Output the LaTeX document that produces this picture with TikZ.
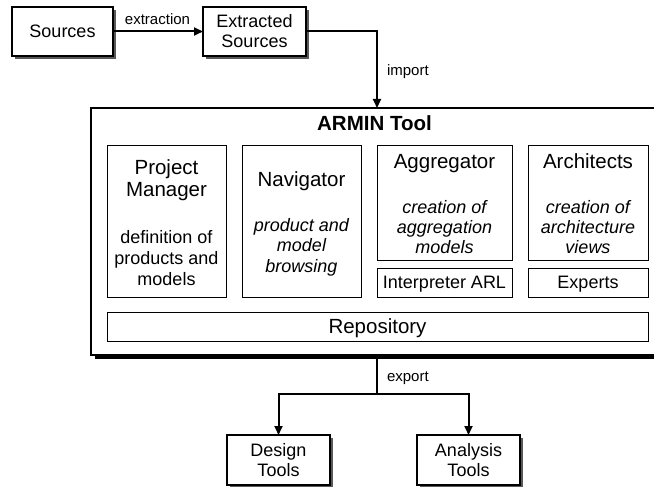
\documentclass[tikz,border=0pt]{standalone}
\usepackage{fontspec}
\setmainfont{Liberation Sans}
\usetikzlibrary{arrows.meta,shadows}
\begin{document}
\begin{tikzpicture}[x=1pt,y=-1pt,
  every node/.style={inner sep=0pt, outer sep=0pt},
  big/.style={font=\fontsize{18}{20}\selectfont},
  head/.style={font=\fontsize{20.5}{22}\selectfont},
  small/.style={font=\fontsize{15}{17}\selectfont},
  onebox/.style={big, text height=12.9pt, text depth=0pt},
  headbox/.style={head, text height=14.7pt, text depth=0pt},
  outerbox/.style={draw, line width=1.1pt, fill=white,
    drop shadow={shadow xshift=3pt, shadow yshift=-3pt, fill=black!65, opacity=1}},
  innerbox/.style={draw, line width=1pt},
  ln/.style={anchor=base, big},
  hl/.style={anchor=base, head},
  desc/.style={anchor=base, font=\fontsize{18}{20}\selectfont\itshape},
  conn/.style={line width=2pt, -{Triangle[length=9pt,width=8pt]}},
  wire/.style={line width=2pt},
]
\clip (0,0) rectangle (654,487);

% external sources
\node[outerbox, onebox, minimum width=101pt, minimum height=49pt] (src) at (62.5,31.5) {Sources};
\node[outerbox, minimum width=103pt, minimum height=49pt] (ext) at (254.5,31.5) {};
\node[ln] (ext1) at (254.5,27.7) {Extracted};
\node[ln] (ext2) at (254.5,47.7) {Sources};

% the tool frame
\node[draw, line width=1.1pt, fill=white, minimum width=572pt, minimum height=247pt,
  drop shadow={shadow xshift=4pt, shadow yshift=-4pt, fill=black, opacity=1}] (armin) at (377,231.5) {};
\node[anchor=base, font=\fontsize{20.5}{22}\selectfont\bfseries] (title) at (374.5,131) {ARMIN Tool};

% components
\node[innerbox, minimum width=119pt, minimum height=152pt] (pm) at (166.5,221) {};
\node[hl] (pm1) at (166.5,174) {Project};
\node[hl] (pm2) at (166.5,196) {Manager};
\node[ln] (pm3) at (166.5,243) {definition of};
\node[ln] (pm4) at (166.5,264) {products and};
\node[ln] (pm5) at (166.5,285) {models};

\node[innerbox, minimum width=119pt, minimum height=152pt] (nav) at (301.5,221) {};
\node[hl] (nav1) at (301.5,186.5) {Navigator};
\node[desc] (nav2) at (301.5,231) {product and};
\node[desc] (nav3) at (301.5,251.5) {model};
\node[desc] (nav4) at (301.5,272) {browsing};

\node[innerbox, minimum width=135pt, minimum height=115pt] (agg) at (444.5,202.5) {};
\node[hl] (agg1) at (444.5,168.5) {Aggregator};
\node[desc] (agg2) at (444.5,213) {creation of};
\node[desc] (agg3) at (444.5,233) {aggregation};
\node[desc] (agg4) at (444.5,253) {models};
\node[innerbox, onebox, minimum width=135pt, minimum height=29pt] (interp) at (444.5,282.5) {Interpreter ARL};

\node[innerbox, minimum width=120pt, minimum height=115pt] (arch) at (588,202.5) {};
\node[hl] (arch1) at (588,168.5) {Architects};
\node[desc] (arch2) at (588,213) {creation of};
\node[desc] (arch3) at (588,233) {architecture};
\node[desc] (arch4) at (588,253) {views};
\node[innerbox, onebox, minimum width=120pt, minimum height=29pt] (exp) at (588,282.5) {Experts};

\node[innerbox, headbox, minimum width=541pt, minimum height=29pt] (repo) at (377.5,326.5) {Repository};

% export targets
\node[outerbox, minimum width=103pt, minimum height=50pt] (des) at (278.5,460) {};
\node[ln] (des1) at (278.5,456) {Design};
\node[ln] (des2) at (278.5,476) {Tools};
\node[outerbox, minimum width=103pt, minimum height=50pt] (ana) at (468.5,460) {};
\node[ln] (ana1) at (468.5,456) {Analysis};
\node[ln] (ana2) at (468.5,476) {Tools};

% data flow
\draw[conn] (src) -- (ext);
\draw[conn] (ext.east) -| (armin.north);
\coordinate (split) at (377,394);
\draw[wire] (armin.south) -- (split);
\draw[conn] (split) -| (des.north);
\draw[conn] (split) -| (ana.north);

\node[small, anchor=base] (lx) at (157.5,25) {extraction};
\node[small, anchor=base west] (li) at (387,76) {import};
\node[small, anchor=base west] (le) at (387,381) {export};
\end{tikzpicture}
\end{document}
